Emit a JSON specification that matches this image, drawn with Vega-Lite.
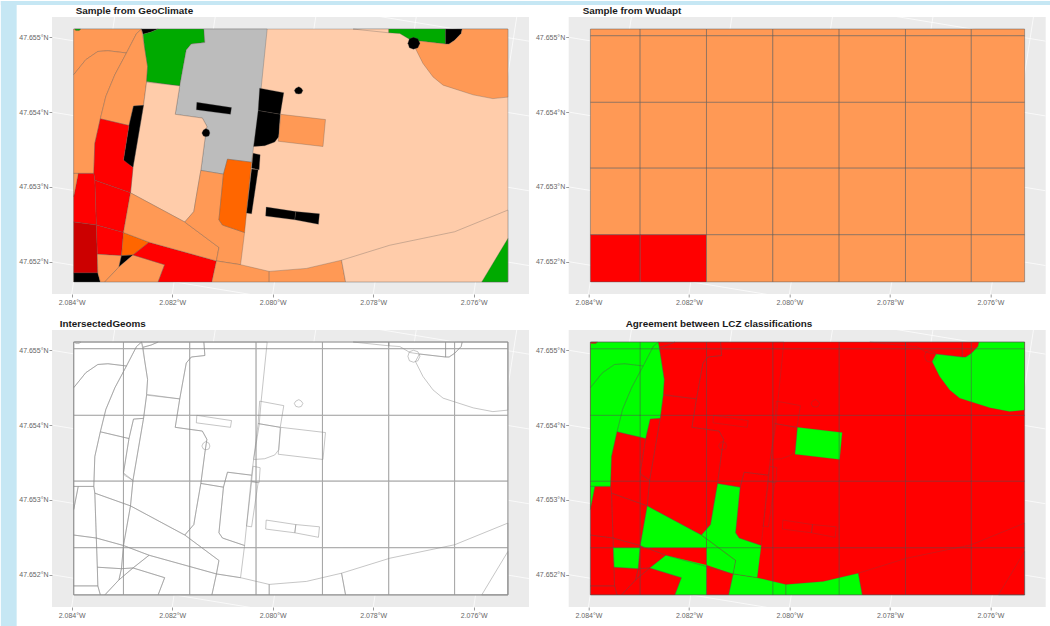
{"$schema":"https://vega.github.io/schema/vega-lite/v6.json","padding":0,"background":"#ffffff","bounds":"flush","columns":2,"spacing":{"row":36,"column":39.7},"resolve":{"scale":{"fill":"independent"}},
"config":{"view":{"stroke":null,"fill":"#EBEBEB"},"font":"Liberation Sans","axis":{"grid":false,"domain":false,"title":null,"tickColor":"#555555","tickSize":3,"tickWidth":0.6,"labelColor":"#666666","labelFontSize":7,"labelFont":"Liberation Sans","labelPadding":1},"title":{"anchor":"start","frame":"group","font":"Liberation Sans","fontWeight":"bold","fontSize":9.9,"color":"#1a1a1a","offset":1}},
"datasets":{
"strip":[{"lon":-2.08541,"lon2":-2.085095,"lat":47.64711,"lat2":47.655485},{"lon":-2.08541,"lon2":-2.06451,"lat":47.655432,"lat2":47.655485}],
"graticule":[
{"g":"n6","i":0,"lon":-2.084392,"lat":47.656},{"g":"n6","i":1,"lon":-2.0749,"lat":47.654948},
{"g":"n5","i":0,"lon":-2.084392,"lat":47.655},{"g":"n5","i":1,"lon":-2.0749,"lat":47.653948},
{"g":"n4","i":0,"lon":-2.084392,"lat":47.654},{"g":"n4","i":1,"lon":-2.0749,"lat":47.652948},
{"g":"n3","i":0,"lon":-2.084392,"lat":47.653},{"g":"n3","i":1,"lon":-2.0749,"lat":47.651948},
{"g":"n2","i":0,"lon":-2.084392,"lat":47.652},{"g":"n2","i":1,"lon":-2.0749,"lat":47.650948},
{"g":"w84","i":0,"lon":-2.084,"lat":47.651568},{"g":"w84","i":1,"lon":-2.083144,"lat":47.655271},
{"g":"w82","i":0,"lon":-2.082,"lat":47.651568},{"g":"w82","i":1,"lon":-2.081144,"lat":47.655271},
{"g":"w80","i":0,"lon":-2.08,"lat":47.651568},{"g":"w80","i":1,"lon":-2.079144,"lat":47.655271},
{"g":"w78","i":0,"lon":-2.078,"lat":47.651568},{"g":"w78","i":1,"lon":-2.077144,"lat":47.655271},
{"g":"w76","i":0,"lon":-2.076,"lat":47.651568},{"g":"w76","i":1,"lon":-2.075144,"lat":47.655271}],
"cells":[
{"c":"6","lon":-2.08396,"lon2":-2.08297,"lat":47.65511,"lat2":47.65502},{"c":"6","lon":-2.08297,"lon2":-2.08165,"lat":47.65511,"lat2":47.65502},{"c":"6","lon":-2.08165,"lon2":-2.08033,"lat":47.65511,"lat2":47.65502},{"c":"6","lon":-2.08033,"lon2":-2.07901,"lat":47.65511,"lat2":47.65502},{"c":"6","lon":-2.07901,"lon2":-2.07769,"lat":47.65511,"lat2":47.65502},{"c":"6","lon":-2.07769,"lon2":-2.07638,"lat":47.65511,"lat2":47.65502},{"c":"6","lon":-2.07638,"lon2":-2.07532,"lat":47.65511,"lat2":47.65502},
{"c":"6","lon":-2.08396,"lon2":-2.08297,"lat":47.65502,"lat2":47.65413},{"c":"6","lon":-2.08297,"lon2":-2.08165,"lat":47.65502,"lat2":47.65413},{"c":"6","lon":-2.08165,"lon2":-2.08033,"lat":47.65502,"lat2":47.65413},{"c":"6","lon":-2.08033,"lon2":-2.07901,"lat":47.65502,"lat2":47.65413},{"c":"6","lon":-2.07901,"lon2":-2.07769,"lat":47.65502,"lat2":47.65413},{"c":"6","lon":-2.07769,"lon2":-2.07638,"lat":47.65502,"lat2":47.65413},{"c":"6","lon":-2.07638,"lon2":-2.07532,"lat":47.65502,"lat2":47.65413},
{"c":"6","lon":-2.08396,"lon2":-2.08297,"lat":47.65413,"lat2":47.65325},{"c":"6","lon":-2.08297,"lon2":-2.08165,"lat":47.65413,"lat2":47.65325},{"c":"6","lon":-2.08165,"lon2":-2.08033,"lat":47.65413,"lat2":47.65325},{"c":"6","lon":-2.08033,"lon2":-2.07901,"lat":47.65413,"lat2":47.65325},{"c":"6","lon":-2.07901,"lon2":-2.07769,"lat":47.65413,"lat2":47.65325},{"c":"6","lon":-2.07769,"lon2":-2.07638,"lat":47.65413,"lat2":47.65325},{"c":"6","lon":-2.07638,"lon2":-2.07532,"lat":47.65413,"lat2":47.65325},
{"c":"6","lon":-2.08396,"lon2":-2.08297,"lat":47.65325,"lat2":47.65236},{"c":"6","lon":-2.08297,"lon2":-2.08165,"lat":47.65325,"lat2":47.65236},{"c":"6","lon":-2.08165,"lon2":-2.08033,"lat":47.65325,"lat2":47.65236},{"c":"6","lon":-2.08033,"lon2":-2.07901,"lat":47.65325,"lat2":47.65236},{"c":"6","lon":-2.07901,"lon2":-2.07769,"lat":47.65325,"lat2":47.65236},{"c":"6","lon":-2.07769,"lon2":-2.07638,"lat":47.65325,"lat2":47.65236},{"c":"6","lon":-2.07638,"lon2":-2.07532,"lat":47.65325,"lat2":47.65236},
{"c":"3","lon":-2.08396,"lon2":-2.08297,"lat":47.65236,"lat2":47.65173},{"c":"3","lon":-2.08297,"lon2":-2.08165,"lat":47.65236,"lat2":47.65173},{"c":"6","lon":-2.08165,"lon2":-2.08033,"lat":47.65236,"lat2":47.65173},{"c":"6","lon":-2.08033,"lon2":-2.07901,"lat":47.65236,"lat2":47.65173},{"c":"6","lon":-2.07901,"lon2":-2.07769,"lat":47.65236,"lat2":47.65173},{"c":"6","lon":-2.07769,"lon2":-2.07638,"lat":47.65236,"lat2":47.65173},{"c":"6","lon":-2.07638,"lon2":-2.07532,"lat":47.65236,"lat2":47.65173}],
"lcz":[
{"p":"base","c":"9","i":0,"lon":-2.08396,"lat":47.65511},{"p":"base","c":"9","i":1,"lon":-2.07532,"lat":47.65511},{"p":"base","c":"9","i":2,"lon":-2.07532,"lat":47.65173},{"p":"base","c":"9","i":3,"lon":-2.08396,"lat":47.65173},
{"p":"A1","c":"6","i":0,"lon":-2.08396,"lat":47.65511},{"p":"A1","c":"6","i":1,"lon":-2.08261,"lat":47.65511},{"p":"A1","c":"6","i":2,"lon":-2.08271,"lat":47.65505},{"p":"A1","c":"6","i":3,"lon":-2.08291,"lat":47.65479},{"p":"A1","c":"6","i":4,"lon":-2.08328,"lat":47.65482},{"p":"A1","c":"6","i":5,"lon":-2.08348,"lat":47.65481},{"p":"A1","c":"6","i":6,"lon":-2.08372,"lat":47.6547},{"p":"A1","c":"6","i":7,"lon":-2.08396,"lat":47.6545},
{"p":"A2","c":"6","i":0,"lon":-2.08396,"lat":47.6545},{"p":"A2","c":"6","i":1,"lon":-2.08372,"lat":47.6547},{"p":"A2","c":"6","i":2,"lon":-2.08348,"lat":47.65481},{"p":"A2","c":"6","i":3,"lon":-2.08328,"lat":47.65482},{"p":"A2","c":"6","i":4,"lon":-2.08291,"lat":47.65479},{"p":"A2","c":"6","i":5,"lon":-2.08314,"lat":47.6545},{"p":"A2","c":"6","i":6,"lon":-2.08332,"lat":47.65421},{"p":"A2","c":"6","i":7,"lon":-2.08343,"lat":47.65391},{"p":"A2","c":"6","i":8,"lon":-2.08354,"lat":47.65358},{"p":"A2","c":"6","i":9,"lon":-2.08356,"lat":47.65318},{"p":"A2","c":"6","i":10,"lon":-2.08396,"lat":47.65318},
{"p":"A3","c":"6","i":0,"lon":-2.08291,"lat":47.65479},{"p":"A3","c":"6","i":1,"lon":-2.08271,"lat":47.65505},{"p":"A3","c":"6","i":2,"lon":-2.08261,"lat":47.65511},{"p":"A3","c":"6","i":3,"lon":-2.08255,"lat":47.65487},{"p":"A3","c":"6","i":4,"lon":-2.08249,"lat":47.65461},{"p":"A3","c":"6","i":5,"lon":-2.08251,"lat":47.6544},{"p":"A3","c":"6","i":6,"lon":-2.08257,"lat":47.65409},{"p":"A3","c":"6","i":7,"lon":-2.08277,"lat":47.65408},{"p":"A3","c":"6","i":8,"lon":-2.08286,"lat":47.65382},{"p":"A3","c":"6","i":9,"lon":-2.08343,"lat":47.65391},{"p":"A3","c":"6","i":10,"lon":-2.08332,"lat":47.65421},{"p":"A3","c":"6","i":11,"lon":-2.08314,"lat":47.6545},
{"p":"S1","c":"E","i":0,"lon":-2.08261,"lat":47.65511},{"p":"S1","c":"E","i":1,"lon":-2.08228,"lat":47.65511},{"p":"S1","c":"E","i":2,"lon":-2.08242,"lat":47.65507},{"p":"S1","c":"E","i":3,"lon":-2.08258,"lat":47.65504},
{"p":"S2","c":"B","i":0,"lon":-2.08394,"lat":47.65511},{"p":"S2","c":"B","i":1,"lon":-2.08382,"lat":47.65511},{"p":"S2","c":"B","i":2,"lon":-2.08385,"lat":47.65509},{"p":"S2","c":"B","i":3,"lon":-2.08392,"lat":47.65509},
{"p":"G","c":"B","i":0,"lon":-2.08228,"lat":47.65511},{"p":"G","c":"B","i":1,"lon":-2.08137,"lat":47.65511},{"p":"G","c":"B","i":2,"lon":-2.08135,"lat":47.65493},{"p":"G","c":"B","i":3,"lon":-2.08162,"lat":47.65491},{"p":"G","c":"B","i":4,"lon":-2.08172,"lat":47.65483},{"p":"G","c":"B","i":5,"lon":-2.08178,"lat":47.65461},{"p":"G","c":"B","i":6,"lon":-2.08185,"lat":47.65435},{"p":"G","c":"B","i":7,"lon":-2.08251,"lat":47.65441},{"p":"G","c":"B","i":8,"lon":-2.08249,"lat":47.65461},{"p":"G","c":"B","i":9,"lon":-2.08255,"lat":47.65487},{"p":"G","c":"B","i":10,"lon":-2.08258,"lat":47.65504},{"p":"G","c":"B","i":11,"lon":-2.08242,"lat":47.65507},
{"p":"GR","c":"8","i":0,"lon":-2.08137,"lat":47.65511},{"p":"GR","c":"8","i":1,"lon":-2.08011,"lat":47.65511},{"p":"GR","c":"8","i":2,"lon":-2.08023,"lat":47.65432},{"p":"GR","c":"8","i":3,"lon":-2.08027,"lat":47.654},{"p":"GR","c":"8","i":4,"lon":-2.08038,"lat":47.65354},{"p":"GR","c":"8","i":5,"lon":-2.08042,"lat":47.65333},{"p":"GR","c":"8","i":6,"lon":-2.0809,"lat":47.65337},{"p":"GR","c":"8","i":7,"lon":-2.08098,"lat":47.65317},{"p":"GR","c":"8","i":8,"lon":-2.08143,"lat":47.65322},{"p":"GR","c":"8","i":9,"lon":-2.08135,"lat":47.65363},{"p":"GR","c":"8","i":10,"lon":-2.08131,"lat":47.65381},{"p":"GR","c":"8","i":11,"lon":-2.0814,"lat":47.65392},{"p":"GR","c":"8","i":12,"lon":-2.08194,"lat":47.65397},{"p":"GR","c":"8","i":13,"lon":-2.08185,"lat":47.65435},{"p":"GR","c":"8","i":14,"lon":-2.08178,"lat":47.65461},{"p":"GR","c":"8","i":15,"lon":-2.08172,"lat":47.65483},{"p":"GR","c":"8","i":16,"lon":-2.08162,"lat":47.65491},{"p":"GR","c":"8","i":17,"lon":-2.08135,"lat":47.65493},
{"p":"R1","c":"E","i":0,"lon":-2.08151,"lat":47.65413},{"p":"R1","c":"E","i":1,"lon":-2.08082,"lat":47.65406},{"p":"R1","c":"E","i":2,"lon":-2.08084,"lat":47.65397},{"p":"R1","c":"E","i":3,"lon":-2.08152,"lat":47.65403},
{"p":"P1","c":"9","i":0,"lon":-2.08251,"lat":47.6544},{"p":"P1","c":"9","i":1,"lon":-2.08185,"lat":47.65435},{"p":"P1","c":"9","i":2,"lon":-2.08194,"lat":47.65397},{"p":"P1","c":"9","i":3,"lon":-2.0814,"lat":47.65392},{"p":"P1","c":"9","i":4,"lon":-2.08131,"lat":47.65381},{"p":"P1","c":"9","i":5,"lon":-2.08135,"lat":47.65363},{"p":"P1","c":"9","i":6,"lon":-2.08143,"lat":47.65322},{"p":"P1","c":"9","i":7,"lon":-2.08152,"lat":47.65287},{"p":"P1","c":"9","i":8,"lon":-2.08157,"lat":47.65267},{"p":"P1","c":"9","i":9,"lon":-2.08175,"lat":47.65253},{"p":"P1","c":"9","i":10,"lon":-2.08283,"lat":47.65292},{"p":"P1","c":"9","i":11,"lon":-2.08278,"lat":47.65327},{"p":"P1","c":"9","i":12,"lon":-2.08257,"lat":47.65409},
{"p":"D1","c":"E","i":0,"lon":-2.08125,"lat":47.65372},{"p":"D1","c":"E","i":1,"lon":-2.08127,"lat":47.65368},{"p":"D1","c":"E","i":2,"lon":-2.08133,"lat":47.65367},{"p":"D1","c":"E","i":3,"lon":-2.08138,"lat":47.65368},{"p":"D1","c":"E","i":4,"lon":-2.08141,"lat":47.65372},{"p":"D1","c":"E","i":5,"lon":-2.08138,"lat":47.65376},{"p":"D1","c":"E","i":6,"lon":-2.08133,"lat":47.65378},{"p":"D1","c":"E","i":7,"lon":-2.08127,"lat":47.65376},
{"p":"B1","c":"E","i":0,"lon":-2.08277,"lat":47.65408},{"p":"B1","c":"E","i":1,"lon":-2.08257,"lat":47.65409},{"p":"B1","c":"E","i":2,"lon":-2.08278,"lat":47.65326},{"p":"B1","c":"E","i":3,"lon":-2.08295,"lat":47.65333},{"p":"B1","c":"E","i":4,"lon":-2.08297,"lat":47.65336},{"p":"B1","c":"E","i":5,"lon":-2.08286,"lat":47.65382},
{"p":"RA","c":"3","i":0,"lon":-2.08343,"lat":47.65391},{"p":"RA","c":"3","i":1,"lon":-2.08286,"lat":47.65382},{"p":"RA","c":"3","i":2,"lon":-2.08297,"lat":47.65336},{"p":"RA","c":"3","i":3,"lon":-2.08278,"lat":47.65326},{"p":"RA","c":"3","i":4,"lon":-2.08283,"lat":47.65292},{"p":"RA","c":"3","i":5,"lon":-2.08354,"lat":47.65309},{"p":"RA","c":"3","i":6,"lon":-2.08356,"lat":47.65318},{"p":"RA","c":"3","i":7,"lon":-2.08354,"lat":47.65358},
{"p":"RB","c":"3","i":0,"lon":-2.08354,"lat":47.65309},{"p":"RB","c":"3","i":1,"lon":-2.08283,"lat":47.65292},{"p":"RB","c":"3","i":2,"lon":-2.08297,"lat":47.65239},{"p":"RB","c":"3","i":3,"lon":-2.08351,"lat":47.65249},
{"p":"RC","c":"3","i":0,"lon":-2.08387,"lat":47.65318},{"p":"RC","c":"3","i":1,"lon":-2.08356,"lat":47.65318},{"p":"RC","c":"3","i":2,"lon":-2.08354,"lat":47.65309},{"p":"RC","c":"3","i":3,"lon":-2.08351,"lat":47.65249},{"p":"RC","c":"3","i":4,"lon":-2.08396,"lat":47.65253},{"p":"RC","c":"3","i":5,"lon":-2.08396,"lat":47.65287},
{"p":"W","c":"6","i":0,"lon":-2.08396,"lat":47.65318},{"p":"W","c":"6","i":1,"lon":-2.08387,"lat":47.65318},{"p":"W","c":"6","i":2,"lon":-2.08396,"lat":47.65287},
{"p":"DR","c":"2","i":0,"lon":-2.08396,"lat":47.65253},{"p":"DR","c":"2","i":1,"lon":-2.08351,"lat":47.65249},{"p":"DR","c":"2","i":2,"lon":-2.08349,"lat":47.6521},{"p":"DR","c":"2","i":3,"lon":-2.08348,"lat":47.65185},{"p":"DR","c":"2","i":4,"lon":-2.08396,"lat":47.65185},
{"p":"RD","c":"3","i":0,"lon":-2.08351,"lat":47.65249},{"p":"RD","c":"3","i":1,"lon":-2.08297,"lat":47.65239},{"p":"RD","c":"3","i":2,"lon":-2.08301,"lat":47.65208},{"p":"RD","c":"3","i":3,"lon":-2.08349,"lat":47.6521},
{"p":"BL","c":"E","i":0,"lon":-2.08396,"lat":47.65185},{"p":"BL","c":"E","i":1,"lon":-2.08348,"lat":47.65185},{"p":"BL","c":"E","i":2,"lon":-2.08343,"lat":47.65173},{"p":"BL","c":"E","i":3,"lon":-2.08396,"lat":47.65173},
{"p":"OA","c":"6","i":0,"lon":-2.08349,"lat":47.6521},{"p":"OA","c":"6","i":1,"lon":-2.08301,"lat":47.65208},{"p":"OA","c":"6","i":2,"lon":-2.08306,"lat":47.65193},{"p":"OA","c":"6","i":3,"lon":-2.08334,"lat":47.65173},{"p":"OA","c":"6","i":4,"lon":-2.08343,"lat":47.65173},{"p":"OA","c":"6","i":5,"lon":-2.08348,"lat":47.65185},
{"p":"F1","c":"5","i":0,"lon":-2.08297,"lat":47.65239},{"p":"F1","c":"5","i":1,"lon":-2.08246,"lat":47.65226},{"p":"F1","c":"5","i":2,"lon":-2.08278,"lat":47.65209},{"p":"F1","c":"5","i":3,"lon":-2.08301,"lat":47.65208},
{"p":"T","c":"E","i":0,"lon":-2.08301,"lat":47.65208},{"p":"T","c":"E","i":1,"lon":-2.08278,"lat":47.65209},{"p":"T","c":"E","i":2,"lon":-2.08306,"lat":47.65193},
{"p":"OB","c":"6","i":0,"lon":-2.08278,"lat":47.65209},{"p":"OB","c":"6","i":1,"lon":-2.08215,"lat":47.65196},{"p":"OB","c":"6","i":2,"lon":-2.08228,"lat":47.65173},{"p":"OB","c":"6","i":3,"lon":-2.08334,"lat":47.65173},{"p":"OB","c":"6","i":4,"lon":-2.08306,"lat":47.65193},
{"p":"RE","c":"3","i":0,"lon":-2.08246,"lat":47.65226},{"p":"RE","c":"3","i":1,"lon":-2.08112,"lat":47.65201},{"p":"RE","c":"3","i":2,"lon":-2.08121,"lat":47.65173},{"p":"RE","c":"3","i":3,"lon":-2.08228,"lat":47.65173},{"p":"RE","c":"3","i":4,"lon":-2.08215,"lat":47.65196},{"p":"RE","c":"3","i":5,"lon":-2.08278,"lat":47.65209},
{"p":"OD","c":"6","i":0,"lon":-2.08283,"lat":47.65292},{"p":"OD","c":"6","i":1,"lon":-2.08175,"lat":47.65253},{"p":"OD","c":"6","i":2,"lon":-2.08107,"lat":47.65219},{"p":"OD","c":"6","i":3,"lon":-2.08112,"lat":47.65201},{"p":"OD","c":"6","i":4,"lon":-2.08246,"lat":47.65226},{"p":"OD","c":"6","i":5,"lon":-2.08297,"lat":47.65239},
{"p":"OM","c":"6","i":0,"lon":-2.08143,"lat":47.65322},{"p":"OM","c":"6","i":1,"lon":-2.08098,"lat":47.65317},{"p":"OM","c":"6","i":2,"lon":-2.08107,"lat":47.65256},{"p":"OM","c":"6","i":3,"lon":-2.081,"lat":47.65249},{"p":"OM","c":"6","i":4,"lon":-2.08056,"lat":47.65239},{"p":"OM","c":"6","i":5,"lon":-2.08064,"lat":47.65196},{"p":"OM","c":"6","i":6,"lon":-2.08112,"lat":47.65201},{"p":"OM","c":"6","i":7,"lon":-2.08107,"lat":47.65219},{"p":"OM","c":"6","i":8,"lon":-2.08175,"lat":47.65253},{"p":"OM","c":"6","i":9,"lon":-2.08157,"lat":47.65267},{"p":"OM","c":"6","i":10,"lon":-2.08152,"lat":47.65287},
{"p":"F2","c":"5","i":0,"lon":-2.0809,"lat":47.65337},{"p":"F2","c":"5","i":1,"lon":-2.08042,"lat":47.65333},{"p":"F2","c":"5","i":2,"lon":-2.08056,"lat":47.65239},{"p":"F2","c":"5","i":3,"lon":-2.081,"lat":47.65249},{"p":"F2","c":"5","i":4,"lon":-2.08107,"lat":47.65256},{"p":"F2","c":"5","i":5,"lon":-2.08098,"lat":47.65317},
{"p":"BM1","c":"E","i":0,"lon":-2.08039,"lat":47.65345},{"p":"BM1","c":"E","i":1,"lon":-2.08025,"lat":47.65343},{"p":"BM1","c":"E","i":2,"lon":-2.08027,"lat":47.65323},{"p":"BM1","c":"E","i":3,"lon":-2.08042,"lat":47.65325},
{"p":"BM2","c":"E","i":0,"lon":-2.08042,"lat":47.65324},{"p":"BM2","c":"E","i":1,"lon":-2.08029,"lat":47.65323},{"p":"BM2","c":"E","i":2,"lon":-2.08042,"lat":47.65264},{"p":"BM2","c":"E","i":3,"lon":-2.08052,"lat":47.65265},
{"p":"BK1","c":"E","i":0,"lon":-2.08026,"lat":47.65432},{"p":"BK1","c":"E","i":1,"lon":-2.07978,"lat":47.65426},{"p":"BK1","c":"E","i":2,"lon":-2.07985,"lat":47.65397},{"p":"BK1","c":"E","i":3,"lon":-2.08029,"lat":47.65402},
{"p":"BK2","c":"E","i":0,"lon":-2.08029,"lat":47.65402},{"p":"BK2","c":"E","i":1,"lon":-2.07985,"lat":47.65397},{"p":"BK2","c":"E","i":2,"lon":-2.07988,"lat":47.65367},{"p":"BK2","c":"E","i":3,"lon":-2.07996,"lat":47.6536},{"p":"BK2","c":"E","i":4,"lon":-2.08016,"lat":47.65355},{"p":"BK2","c":"E","i":5,"lon":-2.08038,"lat":47.65354},
{"p":"OR","c":"6","i":0,"lon":-2.07984,"lat":47.65397},{"p":"OR","c":"6","i":1,"lon":-2.07895,"lat":47.6539},{"p":"OR","c":"6","i":2,"lon":-2.079,"lat":47.65354},{"p":"OR","c":"6","i":3,"lon":-2.07989,"lat":47.65361},
{"p":"D2","c":"E","i":0,"lon":-2.0794,"lat":47.65429},{"p":"D2","c":"E","i":1,"lon":-2.07943,"lat":47.65425},{"p":"D2","c":"E","i":2,"lon":-2.07948,"lat":47.65424},{"p":"D2","c":"E","i":3,"lon":-2.07954,"lat":47.65425},{"p":"D2","c":"E","i":4,"lon":-2.07957,"lat":47.65429},{"p":"D2","c":"E","i":5,"lon":-2.07954,"lat":47.65432},{"p":"D2","c":"E","i":6,"lon":-2.07948,"lat":47.65434},{"p":"D2","c":"E","i":7,"lon":-2.07943,"lat":47.65432},
{"p":"BR1","c":"E","i":0,"lon":-2.08013,"lat":47.65273},{"p":"BR1","c":"E","i":1,"lon":-2.07954,"lat":47.65267},{"p":"BR1","c":"E","i":2,"lon":-2.07956,"lat":47.65256},{"p":"BR1","c":"E","i":3,"lon":-2.08014,"lat":47.65261},
{"p":"BR2","c":"E","i":0,"lon":-2.07954,"lat":47.65267},{"p":"BR2","c":"E","i":1,"lon":-2.07907,"lat":47.65264},{"p":"BR2","c":"E","i":2,"lon":-2.07909,"lat":47.6525},{"p":"BR2","c":"E","i":3,"lon":-2.07956,"lat":47.65256},
{"p":"O3","c":"6","i":0,"lon":-2.08112,"lat":47.65201},{"p":"O3","c":"6","i":1,"lon":-2.08064,"lat":47.65196},{"p":"O3","c":"6","i":2,"lon":-2.08007,"lat":47.65187},{"p":"O3","c":"6","i":3,"lon":-2.08007,"lat":47.65173},{"p":"O3","c":"6","i":4,"lon":-2.08121,"lat":47.65173},
{"p":"O4","c":"6","i":0,"lon":-2.08007,"lat":47.65187},{"p":"O4","c":"6","i":1,"lon":-2.07933,"lat":47.65191},{"p":"O4","c":"6","i":2,"lon":-2.07863,"lat":47.65202},{"p":"O4","c":"6","i":3,"lon":-2.07855,"lat":47.65173},{"p":"O4","c":"6","i":4,"lon":-2.08007,"lat":47.65173},
{"p":"PS","c":"9","i":0,"lon":-2.07863,"lat":47.65202},{"p":"PS","c":"9","i":1,"lon":-2.07767,"lat":47.65222},{"p":"PS","c":"9","i":2,"lon":-2.07638,"lat":47.6524},{"p":"PS","c":"9","i":3,"lon":-2.07532,"lat":47.65269},{"p":"PS","c":"9","i":4,"lon":-2.07532,"lat":47.65173},{"p":"PS","c":"9","i":5,"lon":-2.07855,"lat":47.65173},
{"p":"GE","c":"B","i":0,"lon":-2.07532,"lat":47.65231},{"p":"GE","c":"B","i":1,"lon":-2.07532,"lat":47.65173},{"p":"GE","c":"B","i":2,"lon":-2.07584,"lat":47.65173},
{"p":"PN","c":"9","i":0,"lon":-2.0784,"lat":47.65511},{"p":"PN","c":"9","i":1,"lon":-2.07769,"lat":47.65511},{"p":"PN","c":"9","i":2,"lon":-2.07769,"lat":47.65506},
{"p":"GN","c":"B","i":0,"lon":-2.07769,"lat":47.65511},{"p":"GN","c":"B","i":1,"lon":-2.07656,"lat":47.65511},{"p":"GN","c":"B","i":2,"lon":-2.07656,"lat":47.65491},{"p":"GN","c":"B","i":3,"lon":-2.07708,"lat":47.65495},{"p":"GN","c":"B","i":4,"lon":-2.07727,"lat":47.65497},{"p":"GN","c":"B","i":5,"lon":-2.07747,"lat":47.65505},{"p":"GN","c":"B","i":6,"lon":-2.07769,"lat":47.65506},
{"p":"BN","c":"E","i":0,"lon":-2.07656,"lat":47.65511},{"p":"BN","c":"E","i":1,"lon":-2.07623,"lat":47.65511},{"p":"BN","c":"E","i":2,"lon":-2.07625,"lat":47.65505},{"p":"BN","c":"E","i":3,"lon":-2.07638,"lat":47.65496},{"p":"BN","c":"E","i":4,"lon":-2.07649,"lat":47.65491},{"p":"BN","c":"E","i":5,"lon":-2.07656,"lat":47.65491},
{"p":"ON","c":"6","i":0,"lon":-2.07623,"lat":47.65511},{"p":"ON","c":"6","i":1,"lon":-2.07532,"lat":47.65511},{"p":"ON","c":"6","i":2,"lon":-2.07532,"lat":47.6542},{"p":"ON","c":"6","i":3,"lon":-2.07562,"lat":47.65418},{"p":"ON","c":"6","i":4,"lon":-2.07601,"lat":47.65423},{"p":"ON","c":"6","i":5,"lon":-2.07661,"lat":47.65436},{"p":"ON","c":"6","i":6,"lon":-2.07681,"lat":47.65447},{"p":"ON","c":"6","i":7,"lon":-2.07701,"lat":47.65465},{"p":"ON","c":"6","i":8,"lon":-2.07716,"lat":47.65485},{"p":"ON","c":"6","i":9,"lon":-2.07708,"lat":47.65495},{"p":"ON","c":"6","i":10,"lon":-2.07656,"lat":47.65491},{"p":"ON","c":"6","i":11,"lon":-2.07649,"lat":47.65491},{"p":"ON","c":"6","i":12,"lon":-2.07638,"lat":47.65496},{"p":"ON","c":"6","i":13,"lon":-2.07625,"lat":47.65505},
{"p":"CN","c":"E","i":0,"lon":-2.07707,"lat":47.65492},{"p":"CN","c":"E","i":1,"lon":-2.07711,"lat":47.65486},{"p":"CN","c":"E","i":2,"lon":-2.0772,"lat":47.65484},{"p":"CN","c":"E","i":3,"lon":-2.07728,"lat":47.65486},{"p":"CN","c":"E","i":4,"lon":-2.07731,"lat":47.65492},{"p":"CN","c":"E","i":5,"lon":-2.07728,"lat":47.65498},{"p":"CN","c":"E","i":6,"lon":-2.0772,"lat":47.655},{"p":"CN","c":"E","i":7,"lon":-2.07711,"lat":47.65498}],
"agreement":[
{"p":"base","a":"No","i":0,"lon":-2.08396,"lat":47.65511},{"p":"base","a":"No","i":1,"lon":-2.07532,"lat":47.65511},{"p":"base","a":"No","i":2,"lon":-2.07532,"lat":47.65173},{"p":"base","a":"No","i":3,"lon":-2.08396,"lat":47.65173},
{"p":"Y1","a":"Yes","i":0,"lon":-2.08396,"lat":47.65509},{"p":"Y1","a":"Yes","i":1,"lon":-2.08385,"lat":47.65509},{"p":"Y1","a":"Yes","i":2,"lon":-2.08382,"lat":47.65511},{"p":"Y1","a":"Yes","i":3,"lon":-2.08261,"lat":47.65511},{"p":"Y1","a":"Yes","i":4,"lon":-2.08255,"lat":47.65487},{"p":"Y1","a":"Yes","i":5,"lon":-2.08249,"lat":47.65461},{"p":"Y1","a":"Yes","i":6,"lon":-2.08251,"lat":47.6544},{"p":"Y1","a":"Yes","i":7,"lon":-2.08257,"lat":47.65409},{"p":"Y1","a":"Yes","i":8,"lon":-2.08277,"lat":47.65408},{"p":"Y1","a":"Yes","i":9,"lon":-2.08286,"lat":47.65382},{"p":"Y1","a":"Yes","i":10,"lon":-2.08343,"lat":47.65391},{"p":"Y1","a":"Yes","i":11,"lon":-2.08354,"lat":47.65358},{"p":"Y1","a":"Yes","i":12,"lon":-2.08356,"lat":47.65318},{"p":"Y1","a":"Yes","i":13,"lon":-2.08387,"lat":47.65318},{"p":"Y1","a":"Yes","i":14,"lon":-2.08396,"lat":47.65287},
{"p":"Y2","a":"Yes","i":0,"lon":-2.08283,"lat":47.65292},{"p":"Y2","a":"Yes","i":1,"lon":-2.08175,"lat":47.65253},{"p":"Y2","a":"Yes","i":2,"lon":-2.08165,"lat":47.65247},{"p":"Y2","a":"Yes","i":3,"lon":-2.08165,"lat":47.65236},{"p":"Y2","a":"Yes","i":4,"lon":-2.08288,"lat":47.65236},{"p":"Y2","a":"Yes","i":5,"lon":-2.08297,"lat":47.65239},
{"p":"Y3","a":"Yes","i":0,"lon":-2.08143,"lat":47.65322},{"p":"Y3","a":"Yes","i":1,"lon":-2.08098,"lat":47.65317},{"p":"Y3","a":"Yes","i":2,"lon":-2.08107,"lat":47.65256},{"p":"Y3","a":"Yes","i":3,"lon":-2.081,"lat":47.65249},{"p":"Y3","a":"Yes","i":4,"lon":-2.08056,"lat":47.65239},{"p":"Y3","a":"Yes","i":5,"lon":-2.08064,"lat":47.65196},{"p":"Y3","a":"Yes","i":6,"lon":-2.08112,"lat":47.65201},{"p":"Y3","a":"Yes","i":7,"lon":-2.08107,"lat":47.65219},{"p":"Y3","a":"Yes","i":8,"lon":-2.08175,"lat":47.65253},{"p":"Y3","a":"Yes","i":9,"lon":-2.08157,"lat":47.65267},{"p":"Y3","a":"Yes","i":10,"lon":-2.08152,"lat":47.65287},
{"p":"Y3b","a":"Yes","i":0,"lon":-2.08175,"lat":47.65253},{"p":"Y3b","a":"Yes","i":1,"lon":-2.08107,"lat":47.65219},{"p":"Y3b","a":"Yes","i":2,"lon":-2.08112,"lat":47.65201},{"p":"Y3b","a":"Yes","i":3,"lon":-2.08165,"lat":47.65213},{"p":"Y3b","a":"Yes","i":4,"lon":-2.08165,"lat":47.65247},
{"p":"Y4","a":"Yes","i":0,"lon":-2.08351,"lat":47.65236},{"p":"Y4","a":"Yes","i":1,"lon":-2.08297,"lat":47.65236},{"p":"Y4","a":"Yes","i":2,"lon":-2.08301,"lat":47.65208},{"p":"Y4","a":"Yes","i":3,"lon":-2.08349,"lat":47.6521},
{"p":"Y5","a":"Yes","i":0,"lon":-2.08246,"lat":47.65226},{"p":"Y5","a":"Yes","i":1,"lon":-2.08165,"lat":47.65213},{"p":"Y5","a":"Yes","i":2,"lon":-2.08165,"lat":47.65173},{"p":"Y5","a":"Yes","i":3,"lon":-2.08228,"lat":47.65173},{"p":"Y5","a":"Yes","i":4,"lon":-2.08215,"lat":47.65196},{"p":"Y5","a":"Yes","i":5,"lon":-2.08278,"lat":47.65209},
{"p":"Y6","a":"Yes","i":0,"lon":-2.08112,"lat":47.65201},{"p":"Y6","a":"Yes","i":1,"lon":-2.08064,"lat":47.65196},{"p":"Y6","a":"Yes","i":2,"lon":-2.08007,"lat":47.65187},{"p":"Y6","a":"Yes","i":3,"lon":-2.08007,"lat":47.65173},{"p":"Y6","a":"Yes","i":4,"lon":-2.08121,"lat":47.65173},
{"p":"Y7","a":"Yes","i":0,"lon":-2.08007,"lat":47.65187},{"p":"Y7","a":"Yes","i":1,"lon":-2.07933,"lat":47.65191},{"p":"Y7","a":"Yes","i":2,"lon":-2.07863,"lat":47.65202},{"p":"Y7","a":"Yes","i":3,"lon":-2.07855,"lat":47.65173},{"p":"Y7","a":"Yes","i":4,"lon":-2.08007,"lat":47.65173},
{"p":"Y8","a":"Yes","i":0,"lon":-2.07984,"lat":47.65397},{"p":"Y8","a":"Yes","i":1,"lon":-2.07895,"lat":47.6539},{"p":"Y8","a":"Yes","i":2,"lon":-2.079,"lat":47.65354},{"p":"Y8","a":"Yes","i":3,"lon":-2.07989,"lat":47.65361},
{"p":"Y9","a":"Yes","i":0,"lon":-2.07623,"lat":47.65511},{"p":"Y9","a":"Yes","i":1,"lon":-2.07532,"lat":47.65511},{"p":"Y9","a":"Yes","i":2,"lon":-2.07532,"lat":47.6542},{"p":"Y9","a":"Yes","i":3,"lon":-2.07562,"lat":47.65418},{"p":"Y9","a":"Yes","i":4,"lon":-2.07601,"lat":47.65423},{"p":"Y9","a":"Yes","i":5,"lon":-2.07661,"lat":47.65436},{"p":"Y9","a":"Yes","i":6,"lon":-2.07681,"lat":47.65447},{"p":"Y9","a":"Yes","i":7,"lon":-2.07701,"lat":47.65465},{"p":"Y9","a":"Yes","i":8,"lon":-2.07716,"lat":47.65485},{"p":"Y9","a":"Yes","i":9,"lon":-2.07708,"lat":47.65495},{"p":"Y9","a":"Yes","i":10,"lon":-2.07656,"lat":47.65491},{"p":"Y9","a":"Yes","i":11,"lon":-2.07649,"lat":47.65491},{"p":"Y9","a":"Yes","i":12,"lon":-2.07638,"lat":47.65496},{"p":"Y9","a":"Yes","i":13,"lon":-2.07625,"lat":47.65505}]
},
"concat":[
{"width":477,"height":277,"title":{"text":"Sample from GeoClimate","dx":23.7,"offset":-15},
"encoding":{"x":{"field":"lon","type":"quantitative","scale":{"domain":[-2.084392,-2.0749],"nice":false,"zero":false},"axis":{"values":[-2.084,-2.082,-2.08,-2.078,-2.076],"labelExpr":"format(abs(datum.value),'.3f')+'°W'"}},"y":{"field":"lat","type":"quantitative","scale":{"domain":[47.651568,47.655271],"nice":false,"zero":false},"axis":{"values":[47.652,47.653,47.654,47.655],"labelExpr":"format(datum.value,'.3f')+'°N'"}}},
"layer":[
{"data":{"name":"strip"},"mark":{"type":"rect","fill":"#C6E7F4","clip":false},"encoding":{"x2":{"field":"lon2"},"y2":{"field":"lat2"}}},
{"data":{"name":"graticule"},"mark":{"type":"line","stroke":"#ffffff","strokeWidth":0.7,"clip":true},"encoding":{"detail":{"field":"g"},"order":{"field":"i","type":"quantitative"}}},
{"data":{"name":"lcz"},"mark":{"type":"line","interpolate":"linear-closed","stroke":"#555555","strokeWidth":0.5,"strokeOpacity":0.6},"encoding":{"detail":{"field":"p"},"order":{"field":"i","type":"quantitative"},"fill":{"field":"c","type":"nominal","legend":null,"scale":{"domain":["2","3","5","6","8","9","B","E"],"range":["#CC0000","#FF0000","#FF6600","#FF9955","#BCBCBC","#FFCCAA","#00AA00","#000000"]}}}}
]},
{"width":477,"height":277,"title":{"text":"Sample from Wudapt","dx":14},
"encoding":{"x":{"field":"lon","type":"quantitative","scale":{"domain":[-2.084392,-2.0749],"nice":false,"zero":false},"axis":{"values":[-2.084,-2.082,-2.08,-2.078,-2.076],"labelExpr":"format(abs(datum.value),'.3f')+'°W'"}},"y":{"field":"lat","type":"quantitative","scale":{"domain":[47.651568,47.655271],"nice":false,"zero":false},"axis":{"values":[47.652,47.653,47.654,47.655],"labelExpr":"format(datum.value,'.3f')+'°N'"}}},
"layer":[
{"data":{"name":"graticule"},"mark":{"type":"line","stroke":"#ffffff","strokeWidth":0.7,"clip":true},"encoding":{"detail":{"field":"g"},"order":{"field":"i","type":"quantitative"}}},
{"data":{"name":"cells"},"mark":{"type":"rect","stroke":"#555555","strokeWidth":0.8,"strokeOpacity":0.6},"encoding":{"x2":{"field":"lon2"},"y2":{"field":"lat2"},"fill":{"field":"c","type":"nominal","legend":null,"scale":{"domain":["3","6"],"range":["#FF0000","#FF9955"]}}}}
]},
{"width":477,"height":277,"title":{"text":"IntersectedGeoms","dx":7.7},
"encoding":{"x":{"field":"lon","type":"quantitative","scale":{"domain":[-2.084392,-2.0749],"nice":false,"zero":false},"axis":{"values":[-2.084,-2.082,-2.08,-2.078,-2.076],"labelExpr":"format(abs(datum.value),'.3f')+'°W'"}},"y":{"field":"lat","type":"quantitative","scale":{"domain":[47.651568,47.655271],"nice":false,"zero":false},"axis":{"values":[47.652,47.653,47.654,47.655],"labelExpr":"format(datum.value,'.3f')+'°N'"}}},
"layer":[
{"data":{"name":"graticule"},"mark":{"type":"line","stroke":"#ffffff","strokeWidth":0.7,"clip":true},"encoding":{"detail":{"field":"g"},"order":{"field":"i","type":"quantitative"}}},
{"data":{"name":"cells"},"mark":{"type":"rect","fill":"#ffffff","stroke":"#a0a0a0","strokeWidth":0.9},"encoding":{"x2":{"field":"lon2"},"y2":{"field":"lat2"}}},
{"data":{"name":"lcz"},"mark":{"type":"line","interpolate":"linear-closed","stroke":"#8c8c8c","strokeWidth":0.5},"encoding":{"detail":{"field":"p"},"order":{"field":"i","type":"quantitative"}}}
]},
{"width":477,"height":277,"title":{"text":"Agreement between LCZ classifications","dx":57},
"encoding":{"x":{"field":"lon","type":"quantitative","scale":{"domain":[-2.084392,-2.0749],"nice":false,"zero":false},"axis":{"values":[-2.084,-2.082,-2.08,-2.078,-2.076],"labelExpr":"format(abs(datum.value),'.3f')+'°W'"}},"y":{"field":"lat","type":"quantitative","scale":{"domain":[47.651568,47.655271],"nice":false,"zero":false},"axis":{"values":[47.652,47.653,47.654,47.655],"labelExpr":"format(datum.value,'.3f')+'°N'"}}},
"layer":[
{"data":{"name":"graticule"},"mark":{"type":"line","stroke":"#ffffff","strokeWidth":0.7,"clip":true},"encoding":{"detail":{"field":"g"},"order":{"field":"i","type":"quantitative"}}},
{"data":{"name":"agreement"},"mark":{"type":"line","interpolate":"linear-closed","strokeWidth":0},"encoding":{"detail":{"field":"p"},"order":{"field":"i","type":"quantitative"},"fill":{"field":"a","type":"nominal","legend":null,"scale":{"domain":["No","Yes"],"range":["#FF0000","#00FF00"]}}}},
{"data":{"name":"cells"},"mark":{"type":"rect","fillOpacity":0,"stroke":"#555555","strokeWidth":0.6,"strokeOpacity":0.5},"encoding":{"x2":{"field":"lon2"},"y2":{"field":"lat2"}}},
{"data":{"name":"lcz"},"mark":{"type":"line","interpolate":"linear-closed","stroke":"#555555","strokeWidth":0.5,"strokeOpacity":0.5},"encoding":{"detail":{"field":"p"},"order":{"field":"i","type":"quantitative"}}}
]}
]}
